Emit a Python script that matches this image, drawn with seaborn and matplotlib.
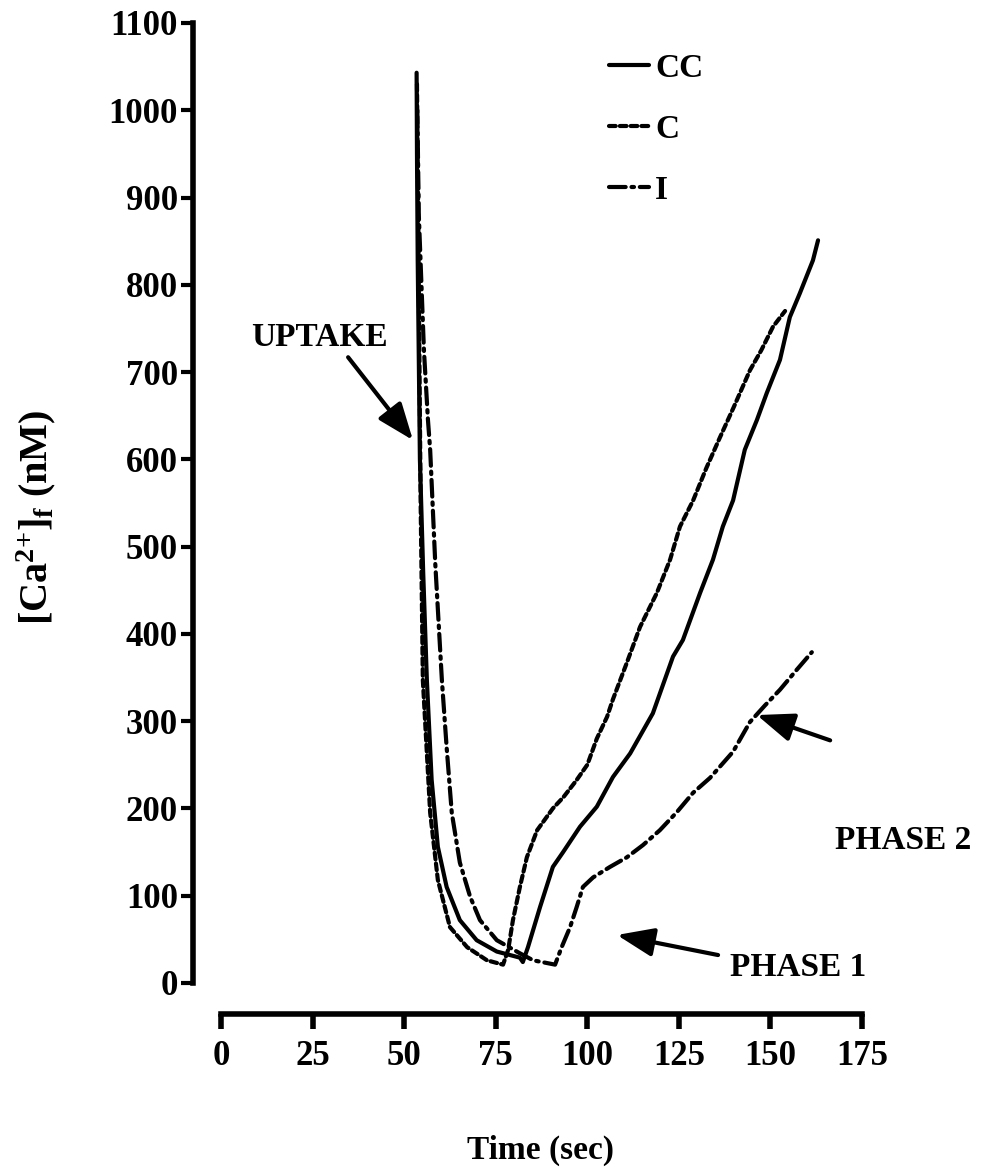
import numpy as np
import pandas as pd
import matplotlib
matplotlib.use('Agg')
import matplotlib.pyplot as plt
import seaborn as sns

series_names = ['CC', 'C', 'I']

cc_time = [53.4, 53.5, 53.7, 54.3, 55.2, 56.2, 57.5, 59.2, 61.6, 65.2, 69.8, 75.3, 81.6, 82.4,
           83.8, 87.1, 90.6, 93.4, 98.0, 102.6, 107.0, 111.7, 117.9, 123.4, 126.1, 130.8,
           134.3, 137.0, 139.8, 143.0, 146.3, 149.0, 152.6, 155.3, 158.0, 161.6, 163.0]
cc_ca = [1043, 950, 828, 600, 470, 347, 233, 156, 110, 72, 49, 36, 29, 24,
         41, 87, 133, 150, 179, 202, 236, 263, 309, 374, 393, 447,
         485, 523, 553, 611, 645, 676, 714, 763, 790, 828, 851]

c_time = [53.5, 53.8, 54.1, 54.5, 55.1, 57.1, 59.2, 62.5, 67.2, 72.6, 77.0, 78.4, 79.7, 81.6,
          83.5, 86.3, 90.6, 93.5, 97.0, 100.0, 102.6, 105.4, 107.0, 110.8, 114.4, 119.0,
          122.6, 125.3, 128.9, 132.5, 136.2, 140.0, 144.4, 147.5, 150.7, 154.0]
c_ca = [1030, 900, 750, 550, 347, 195, 118, 64, 41, 26, 21, 38, 72, 110,
        144, 175, 200, 213, 232, 250, 280, 305, 325, 367, 408, 447,
        485, 523, 553, 590, 625, 660, 702, 725, 752, 770]

i_time = [53.6, 54.0, 55.4, 56.5, 57.1, 58.5, 60.3, 61.6, 63.0, 65.2, 68.0, 70.7, 75.3, 81.6,
          85.2, 91.2, 93.0, 95.3, 97.1, 98.8, 101.6, 106.2, 110.8, 115.2, 119.8, 124.5,
          128.9, 133.5, 139.8, 144.4, 148.5, 152.6, 157.0, 161.3]
i_ca = [1000, 880, 725, 645, 611, 480, 347, 270, 195, 138, 99, 72, 49, 34,
        26, 21, 41, 64, 87, 110, 121, 133, 144, 158, 175, 196,
        218, 235, 265, 299, 318, 336, 358, 379]

x_ticks = [0, 25, 50, 75, 100, 125, 150, 175]
y_ticks = [0, 100, 200, 300, 400, 500, 600, 700, 800, 900, 1000, 1100]

sns.set_theme(style='ticks')
plt.rcParams['font.family'] = ['Liberation Serif', 'DejaVu Serif']
plt.rcParams['font.weight'] = 'bold'
plt.rcParams['axes.labelweight'] = 'bold'
plt.rcParams['mathtext.default'] = 'regular'
for k in ['text.color', 'axes.labelcolor', 'xtick.color', 'ytick.color', 'axes.edgecolor']:
    plt.rcParams[k] = 'black'

frames = []
for name, xs, ys in [('CC', cc_time, cc_ca), ('C', c_time, c_ca), ('I', i_time, i_ca)]:
    frames.append(pd.DataFrame({'time': xs, 'ca': ys, 'series': name}))
df = pd.concat(frames, ignore_index=True)

fig = plt.figure(figsize=(9.81, 11.73), dpi=100)
ax = fig.add_axes([0.2253, 0.1620, 0.6534, 0.8184])

sns.lineplot(data=df, x='time', y='ca', hue='series', style='series',
             hue_order=series_names, style_order=series_names,
             palette={'CC': 'black', 'C': 'black', 'I': 'black'},
             dashes={'CC': '', 'C': (1.6, 1.0), 'I': (4.0, 1.4, 0.6, 1.4)},
             sort=False, estimator=None, linewidth=3, legend=False, ax=ax)
for ln in ax.get_lines():
    ln.set_dash_capstyle('round')
    ln.set_solid_capstyle('round')
    ln.set_clip_on(False)

ax.set_xlim(0, 175)
ax.set_ylim(0, 1100)
ax.set_xticks(x_ticks)
ax.set_yticks(y_ticks)
sns.despine(ax=ax, offset={'left': 20, 'bottom': 22})
for side in ['left', 'bottom']:
    ax.spines[side].set_linewidth(4)
    ax.spines[side].set_color('black')
ax.tick_params(axis='x', direction='out', length=11, width=4, color='black', pad=8,
               labelsize=25, labelcolor='black')
ax.tick_params(axis='y', direction='out', length=9, width=3, color='black', pad=2,
               labelsize=25, labelcolor='black')
for lab in ax.get_xticklabels() + ax.get_yticklabels():
    lab.set_fontweight('bold')

ax.set_xlabel('Time (sec)', fontsize=24, fontweight='bold', color='black')
ax.xaxis.set_label_coords(0.499, -0.158)
ax.set_ylabel(r'[Ca$^{2{+}}$]$_{f}$ (nM)', fontsize=29, fontweight='bold', color='black')
ax.yaxis.set_label_coords(-0.254, 0.485)

handles = ax.get_lines()[:3]
ax.legend(handles, series_names, loc='upper left', bbox_to_anchor=(0.558, 1.0),
          frameon=False, handlelength=1.2, handletextpad=0.2, labelspacing=0.9,
          prop={'size': 24, 'weight': 'bold', 'family': 'Liberation Serif'})

arrow_kw = dict(arrowstyle='-|>,head_length=0.9,head_width=0.35', lw=3, color='black',
                mutation_scale=25, shrinkA=0, shrinkB=0)
ax.annotate('', xy=(52.4, 622), xytext=(34.7, 717), arrowprops=arrow_kw, annotation_clip=False)
ax.annotate('', xy=(146.3, 307), xytext=(166.3, 278), arrowprops=arrow_kw, annotation_clip=False)
ax.annotate('', xy=(108.1, 55), xytext=(135.7, 32), arrowprops=arrow_kw, annotation_clip=False)

ax.text(27.0, 740, 'UPTAKE', ha='center', va='center', fontsize=24, fontweight='bold', clip_on=False)
ax.text(186.2, 162.7, 'PHASE 2', ha='center', va='center', fontsize=24, fontweight='bold', clip_on=False)
ax.text(157.5, 17.2, 'PHASE 1', ha='center', va='center', fontsize=24, fontweight='bold', clip_on=False)

fig.savefig('out.png', dpi=100, facecolor='white')
